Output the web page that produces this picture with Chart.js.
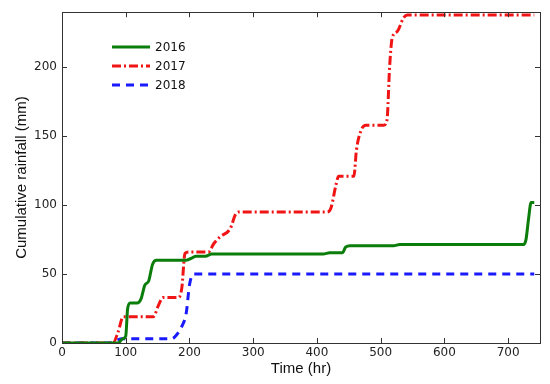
<!DOCTYPE html>
<html>
<head>
<meta charset="utf-8">
<script src="https://cdn.jsdelivr.net/npm/chart.js@4/dist/chart.umd.min.js"></script>
<style>
  html, body { margin: 0; padding: 0; background: #fff; }
  #wrap { width: 550px; height: 384px; }
</style>
</head>
<body>
<div id="wrap"><canvas id="rainChart" width="550" height="384"></canvas></div>
<script>
// cumulative rainfall (time in hr, rain in mm)
const time2016 = [0, 88, 95, 100, 103, 107, 118, 124, 130, 136, 142, 148, 195, 205, 210, 225, 235, 410, 420, 440, 445, 452, 520, 530, 724, 728, 732, 736, 741];
const rain2016 = [0, 0, 3, 5, 25, 29, 29, 32, 42, 45, 57, 60, 60, 62, 63, 63, 64.5, 64.5, 65.5, 65.5, 69.5, 70.5, 70.5, 71.5, 71.5, 75, 90, 102, 102];

const time2017 = [0, 80, 88, 96, 143, 152, 158, 183, 188, 193, 200, 230, 238, 248, 264, 272, 277, 415, 422, 430, 434, 458, 462, 470, 477, 505, 510, 514, 518, 526, 536, 542, 741];
const rain2017 = [0, 0, 8, 19, 19, 28, 33, 33, 40, 65, 66, 66, 72, 77, 83, 93, 95, 95, 98, 115, 121, 121, 140, 155, 158, 158, 162, 200, 221, 226, 236, 238, 238];

const time2018 = [0, 75, 85, 95, 172, 180, 188, 195, 200, 206, 741];
const rain2018 = [0, 0, 2, 3, 3, 6, 12, 22, 42, 50, 50];

const seriesNames = ["2016", "2017", "2018"];
const xTicks = [0, 100, 200, 300, 400, 500, 600, 700];
const yTicks = [0, 50, 100, 150, 200];

function toPoints(xs, ys) {
  return xs.map((x, i) => ({ x: x, y: ys[i] }));
}

// inward ticks on all four sides + box, and the legend inside the plot
const frameAndLegend = {
  id: "frameAndLegend",
  afterDatasetsDraw(chart) {
    const ctx = chart.ctx;
    const a = chart.chartArea;
    const xs = chart.scales.x, ys = chart.scales.y;
    ctx.save();
    ctx.strokeStyle = "#333";
    ctx.lineWidth = 1;
    ctx.beginPath();
    xTicks.forEach(v => {
      const px = Math.round(xs.getPixelForValue(v)) + 0.5;
      ctx.moveTo(px, a.bottom); ctx.lineTo(px, a.bottom - 5);
      ctx.moveTo(px, a.top); ctx.lineTo(px, a.top + 5);
    });
    yTicks.forEach(v => {
      const py = Math.round(ys.getPixelForValue(v)) + 0.5;
      ctx.moveTo(a.left, py); ctx.lineTo(a.left + 5, py);
      ctx.moveTo(a.right, py); ctx.lineTo(a.right - 5, py);
    });
    ctx.stroke();
    ctx.strokeRect(Math.round(a.left) + 0.5, Math.round(a.top) + 0.5,
      Math.round(a.right - a.left), Math.round(a.bottom - a.top));

    // legend
    chart.data.datasets.forEach((ds, i) => {
      const y = 47 + i * 19;
      ctx.strokeStyle = ds.borderColor;
      ctx.lineWidth = ds.borderWidth;
      ctx.setLineDash(ds.borderDash || []);
      ctx.beginPath();
      ctx.moveTo(112, y);
      ctx.lineTo(150, y);
      ctx.stroke();
      ctx.setLineDash([]);
      ctx.fillStyle = "#111";
      ctx.font = "12px 'DejaVu Sans'";
      ctx.textBaseline = "middle";
      ctx.fillText(ds.label, 155, y + 1);
    });
    ctx.restore();
  }
};

const ctx = document.getElementById("rainChart").getContext("2d");
new Chart(ctx, {
  type: "line",
  data: {
    datasets: [
      {
        label: seriesNames[0],
        data: toPoints(time2016, rain2016),
        borderColor: "#0b7d0b",
        borderWidth: 3
      },
      {
        label: seriesNames[1],
        data: toPoints(time2017, rain2017),
        borderColor: "#f01414",
        borderWidth: 3,
        borderDash: [9, 3, 2, 3]
      },
      {
        label: seriesNames[2],
        data: toPoints(time2018, rain2018),
        borderColor: "#1a1aff",
        borderWidth: 3,
        borderDash: [8, 6]
      }
    ]
  },
  options: {
    responsive: false,
    animation: false,
    layout: { padding: { top: 12, right: 10, left: 0, bottom: 0 } },
    elements: {
      point: { radius: 0 },
      line: { tension: 0, cubicInterpolationMode: "monotone", fill: false }
    },
    plugins: {
      legend: { display: false },
      tooltip: { enabled: false }
    },
    scales: {
      x: {
        type: "linear",
        min: 0,
        max: 750,
        afterBuildTicks: s => { s.ticks = xTicks.map(v => ({ value: v })); },
        afterFit: s => { s.height = 41; },
        grid: { display: false, drawTicks: false },
        border: { display: false },
        ticks: { color: "#222", padding: 3, font: { family: "'DejaVu Sans'", size: 12 } },
        title: {
          display: true,
          text: "Time (hr)",
          color: "#111",
          padding: { top: 0, bottom: 6 },
          font: { family: "'Liberation Sans'", size: 15 }
        }
      },
      y: {
        type: "linear",
        min: 0,
        max: 240,
        afterBuildTicks: s => { s.ticks = yTicks.map(v => ({ value: v })); },
        afterFit: s => { s.width = 62; },
        grid: { display: false, drawTicks: false },
        border: { display: false },
        ticks: { color: "#222", padding: 5, font: { family: "'DejaVu Sans'", size: 12 } },
        title: {
          display: true,
          text: "Cumulative rainfall (mm)",
          color: "#111",
          padding: { top: 13, bottom: 0 },
          font: { family: "'Liberation Sans'", size: 15 }
        }
      }
    }
  },
  plugins: [frameAndLegend]
});
</script>
</body>
</html>
